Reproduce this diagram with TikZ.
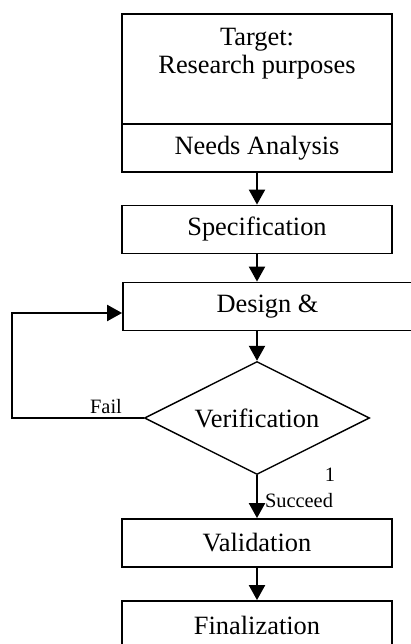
\documentclass[tikz,border=0pt]{standalone}
\usepackage{fontspec}
\setmainfont{Liberation Serif}
\usetikzlibrary{arrows.meta, shapes.geometric}

\begin{document}
\begin{tikzpicture}[x=0.5pt, y=-0.5pt, >={Triangle[width=8pt,length=7.5pt]},
  stage/.style={draw, line width=0.9pt, minimum width=135pt, minimum height=24pt, inner sep=0pt,
    font=\fontsize{13.2}{14}\selectfont},
  flow/.style={->, line width=1.1pt},
  tag/.style={inner sep=0pt, font=\fontsize{10.2}{12}\selectfont}]
  \clip (0,0) rectangle (411,644);
  % target block, needs analysis underneath
  \node[stage, minimum height=55pt] (target) at (257,69) {};
  \node[inner sep=0pt, align=center, anchor=north, font=\fontsize{13.2}{14}\selectfont]
    (targettxt) at (257,28) {Target:\\Research purposes};
  \node[stage] (needs) at (257,148) {Needs Analysis};
  \node[stage] (spec) at (257,229.5) {Specification};
  \node[stage, minimum width=144.5pt] (design) at (267.5,306.5) {Design \&};
  \node[draw, diamond, aspect=2, line width=0.7pt, minimum width=112.5pt, minimum height=56.5pt,
    inner sep=0pt, font=\fontsize{13.2}{14}\selectfont] (verif) at (257,418) {Verification};
  \node[stage] (valid) at (257,543) {Validation};
  \node[stage] (final) at (257,625) {Finalization};
  % main flow
  \draw[flow] (needs) -- (spec);
  \draw[flow] (spec) -- (design.north -| spec.south);
  \draw[flow] (design.south -| spec.south) -- (verif);
  \draw[flow] (verif) -- (valid);
  \draw[flow] (valid) -- (final);
  % fail loop back to design
  \coordinate (loopfoot) at (12,418);
  \draw[flow] (verif.west) -- (loopfoot) |- ([yshift=-3.25pt]design.west);
  \node[tag] (fail) at (106,407) {Fail};
  \node[tag] (one) at (330,475) {1};
  \node[tag] (succeed) at (299,501) {Succeed};
\end{tikzpicture}
\end{document}
